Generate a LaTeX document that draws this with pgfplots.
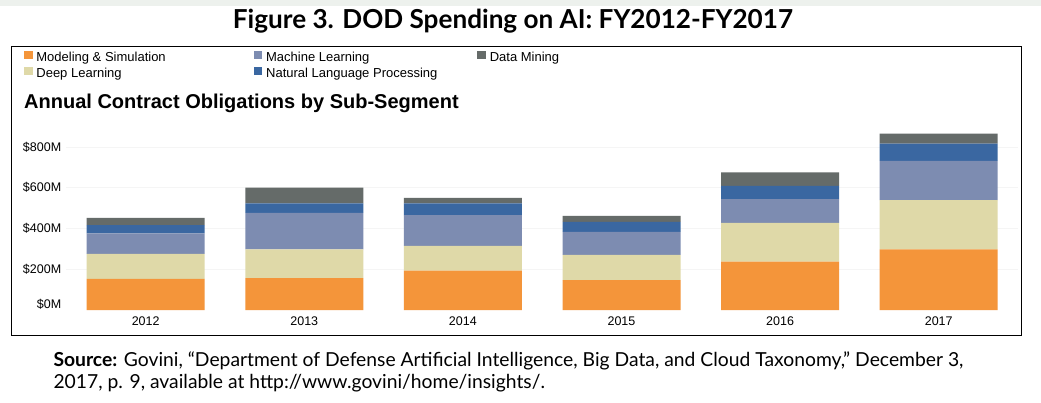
\documentclass[border=0pt]{standalone}
\usepackage{fontspec}
\setmainfont{Liberation Sans}
\newfontfamily\gill{Lato}
\usepackage{pgfplots}
\pgfplotsset{compat=1.18}
\definecolor{cMS}{HTML}{F4953A}
\definecolor{cDL}{HTML}{DFD9A8}
\definecolor{cML}{HTML}{7D8CB1}
\definecolor{cNLP}{HTML}{3A67A1}
\definecolor{cDM}{HTML}{656B69}
\definecolor{cBand}{HTML}{EDF1ED}
\newcommand\legsq[1]{\addlegendimage{legend image code/.code={\fill[#1] (0bp,0bp) rectangle (7.5bp,7bp);}}}
\begin{document}
\begin{tikzpicture}
\path[use as bounding box, fill=white] (0,0) rectangle (1041bp,-403bp);
\fill[cBand] (0,0) rectangle (1041bp,-6bp);
\draw[line width=1.3bp] (11.7bp,-46.5bp) rectangle (1021.7bp,-335.5bp);
\node[anchor=base, inner sep=0pt] at (513bp,-28.3bp) {\resizebox{560bp}{!}{\gill\bfseries Figure 3. DOD Spending on AI: FY2012-FY2017}};
\node[anchor=base west, inner sep=0pt, font=\fontsize{20bp}{23bp}\selectfont\bfseries] at (24bp,-108.3bp) {Annual Contract Obligations by Sub-Segment};
\node[anchor=base west, inner sep=0pt, font=\gill\fontsize{19.3bp}{22bp}\selectfont] at (53.3bp,-366.7bp) {\textbf{Source:} Govini, “Department of Defense Artificial Intelligence, Big Data, and Cloud Taxonomy,” December 3,};
\node[anchor=base west, inner sep=0pt, font=\gill\fontsize{19.3bp}{22bp}\selectfont] at (53.3bp,-388.3bp) {2017, p. 9, available at http://www.govini/home/insights/.};
\begin{axis}[
  at={(66.4bp,-310bp)}, anchor=south west,
  scale only axis, width=951.6bp, height=183.4bp,
  xmin=-0.5, xmax=5.5, ymin=0, ymax=900,
  ybar stacked, bar width=118bp,
  axis line style={draw=none}, tick style={draw=none},
  xtick={0,1,2,3,4,5}, xticklabels={2012,2013,2014,2015,2016,2017},
  ytick={200,400,600,800}, yticklabels={\$200M,\$400M,\$600M,\$800M},
  extra y ticks={0}, extra y tick labels={\$0M},
  extra y tick style={grid=none, yticklabel style={yshift=6bp}},
  ymajorgrids, major grid style={black!4, line width=0.6bp},
  ticklabel style={font=\fontsize{12.5bp}{14bp}\selectfont, inner sep=0pt},
  yticklabel style={anchor=east, xshift=-5bp},
  xticklabel style={anchor=north, yshift=-7bp},
  legend columns=3, legend cell align=left,
  legend style={draw=none, fill=none, inner sep=0pt, outer sep=0pt,
    at={(-0.04456,1.4144)}, anchor=north west,
    font=\fontsize{13bp}{15bp}\selectfont, row sep=3.5bp,
    nodes={inner sep=0pt, text height=9.4bp, text depth=2.6bp},
    /tikz/every odd column/.append style={column sep=4.5bp},
    /tikz/column 2/.style={column sep=88bp},
    /tikz/column 4/.style={column sep=40bp}},
]
\addplot[forget plot, fill=cMS, draw=none] coordinates {(0,153) (1,157) (2,193) (3,147) (4,237) (5,298)};
\addplot[forget plot, fill=cDL, draw=none] coordinates {(0,122) (1,141) (2,122) (3,124) (4,191) (5,241)};
\addplot[forget plot, fill=cML, draw=none] coordinates {(0,101) (1,179) (2,151) (3,113) (4,116) (5,193)};
\addplot[forget plot, fill=cNLP, draw=none] coordinates {(0,41) (1,46) (2,57) (3,49) (4,65) (5,85)};
\addplot[forget plot, fill=cDM, draw=none] coordinates {(0,35) (1,78) (2,27) (3,29) (4,66) (5,49)};
\legsq{cMS}\addlegendentry{Modeling \& Simulation}
\legsq{cML}\addlegendentry{Machine Learning}
\legsq{cDM}\addlegendentry{Data Mining}
\legsq{cDL}\addlegendentry{Deep Learning}
\legsq{cNLP}\addlegendentry{Natural Language Processing}
\end{axis}
\end{tikzpicture}
\end{document}
